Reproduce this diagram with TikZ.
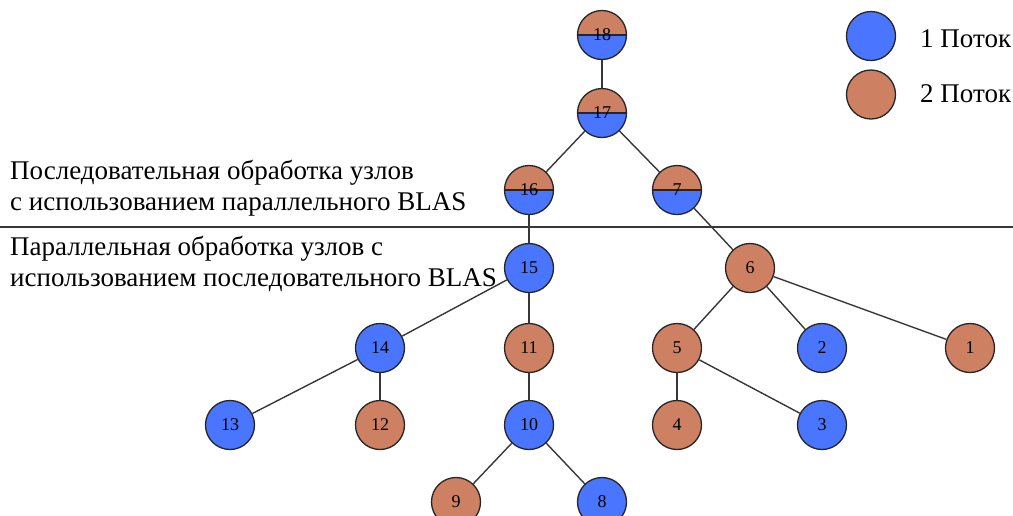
\documentclass[tikz,border=0pt]{standalone}
\usepackage{fontspec}
\setmainfont{Liberation Serif}
\usetikzlibrary{positioning}
\definecolor{threadone}{RGB}{74,118,255}
\definecolor{threadtwo}{RGB}{205,128,98}
\definecolor{edgegray}{RGB}{55,55,55}

\begin{document}
\begin{tikzpicture}[
    x=1pt, y=-1pt,
    task/.style={circle, draw=black!85, line width=1.3pt, minimum size=49pt, inner sep=0pt, font=\fontsize{18}{18}\selectfont},
    one/.style={task, fill=threadone},
    two/.style={task, fill=threadtwo},
    both/.style={task, path picture={
        \fill[threadtwo] (path picture bounding box.north west) rectangle (path picture bounding box.east);
        \fill[threadone] (path picture bounding box.west) rectangle (path picture bounding box.south east);
        \draw[black!85, line width=1.3pt] (path picture bounding box.west) -- (path picture bounding box.east);}},
    link/.style={draw=edgegray, line width=1.4pt},
    caption/.style={anchor=base west, inner sep=0pt, font=\fontsize{27}{31}\selectfont}
]
\useasboundingbox (0,0) rectangle (1013,515);
\clip (0,0) rectangle (1013,515);

% Legend
\node[one] (leg1) at (871,36) {};
\node[two] (leg2) at (871,94.5) {};
\node[caption] (leg1txt) at (920,47) {1 Поток};
\node[caption] (leg2txt) at (920,102) {2 Поток};

% Separator
\coordinate (sepl) at (0,227.3);
\coordinate (sepr) at (1013,227.3);
\draw[edgegray, line width=2pt] (sepl) -- (sepr);

\node[caption] (seq1) at (10,179) {Последовательная обработка узлов};
\node[caption] (seq2) at (10,210) {с использованием параллельного BLAS};
\node[caption] (par1) at (10,255) {Параллельная обработка узлов с};
\node[caption] (par2) at (10,286) {использованием последовательного BLAS};

% Tree nodes
\node[both] (n18) at (602,35) {18};
\node[both] (n17) at (602,113) {17};
\node[both] (n16) at (529,190) {16};
\node[both] (n7) at (677,190) {7};
\node[one] (n15) at (529,268) {15};
\node[two] (n6) at (750,268) {6};
\node[one] (n14) at (380,348) {14};
\node[two] (n11) at (529,348) {11};
\node[two] (n5) at (677,348) {5};
\node[one] (n2) at (822,348) {2};
\node[two] (n1) at (970,348) {1};
\node[one] (n13) at (230,425) {13};
\node[two] (n12) at (380,425) {12};
\node[one] (n10) at (529,425) {10};
\node[two] (n4) at (677,425) {4};
\node[one] (n3) at (822,425) {3};
\node[two] (n9) at (456,502) {9};
\node[one] (n8) at (602,502) {8};

% Edges
\foreach \a/\b in {n18/n17, n17/n16, n17/n7, n16/n15, n7/n6, n15/n14, n15/n11,
                   n14/n13, n14/n12, n11/n10, n10/n9, n10/n8, n6/n5, n6/n2, n6/n1,
                   n5/n4, n5/n3}
    \draw[link] (\a) -- (\b);

\end{tikzpicture}
\end{document}
